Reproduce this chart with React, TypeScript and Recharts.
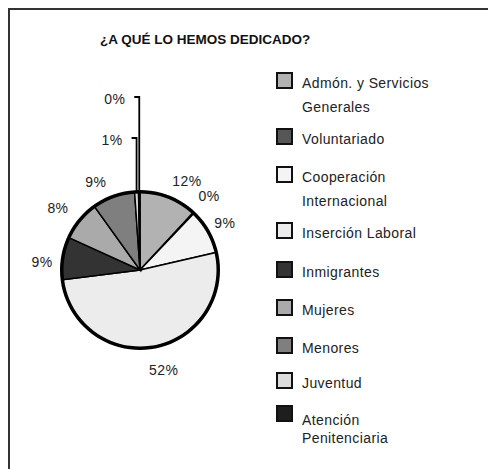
import React from "react";
import { PieChart, Pie, Cell, Legend } from "recharts";

// categories, clockwise from 12 o'clock (legend text keeps its line breaks)
const categories = [
  "Admón. y Servicios\nGenerales",
  "Voluntariado",
  "Cooperación\nInternacional",
  "Inserción Laboral",
  "Inmigrantes",
  "Mujeres",
  "Menores",
  "Juventud",
  "Atención\nPenitenciaria",
];

// share of each area, in %
const shares = [11.9, 0.2, 9.3, 51.6, 8.8, 8.3, 8.8, 0.8, 0.3];

const colors = [
  "#b2b2b2",
  "#565656",
  "#f4f4f4",
  "#ececec",
  "#333333",
  "#aaaaaa",
  "#7f7f7f",
  "#dcdcdc",
  "#1e1e1e",
];

const pieData = categories.map((name, i) => ({
  name: name.replace("\n", " "),
  value: shares[i],
}));

// thick outline of the pie
const outline = [{ name: "borde", value: 1 }];

const RADIAN = Math.PI / 180;
const FONT = "Arial, 'Liberation Sans', sans-serif";

// leader line length for the tiny slices at the top
const leaderLength: Record<number, number> = { 7: 54, 8: 95 };

// small label nudges (px) to mimic the original placement
const labelNudge: Record<number, [number, number]> = {
  0: [10, 5],
  2: [-3, 3],
  3: [6, 1],
  4: [2, 7],
  5: [-4, 2],
  6: [-10, 7],
};

// legend row heights
const legendRowH = [56, 38, 56, 39, 38, 38, 35, 33, 40];

const renderLabel = (props: any) => {
  const { cx, cy, midAngle, outerRadius, percent, index } = props;
  const text = `${Math.round(percent * 100)}%`;
  const style = { fontSize: 14, fill: "#222", fontFamily: FONT, letterSpacing: 0.4 };

  if (leaderLength[index] !== undefined) {
    const x0 = cx + outerRadius * Math.cos(-midAngle * RADIAN);
    const y0 = cy + outerRadius * Math.sin(-midAngle * RADIAN);
    const top = cy - outerRadius - leaderLength[index];
    return (
      <g key={`lbl-${index}`}>
        <polyline
          points={`${x0},${y0} ${x0},${top} ${x0 - 5},${top}`}
          fill="none"
          stroke="#000"
          strokeWidth={1.8}
        />
        <text x={x0 - 14} y={top + 2} textAnchor="end" dominantBaseline="central" style={style}>
          {text}
        </text>
      </g>
    );
  }

  const r = outerRadius + 23;
  const [dx, dy] = labelNudge[index] ?? [0, 0];
  const x = cx + r * Math.cos(-midAngle * RADIAN) + dx;
  const y = cy + r * Math.sin(-midAngle * RADIAN) + dy;
  return (
    <text key={`lbl-${index}`} x={x} y={y} textAnchor="middle" dominantBaseline="central" style={style}>
      {text}
    </text>
  );
};

const renderLegend = () => (
  <div style={{ fontFamily: FONT, fontSize: 14, color: "#222", letterSpacing: 0.4 }}>
    {categories.map((name, i) => {
      const last = i === categories.length - 1;
      return (
        <div key={name} style={{ display: "flex", height: legendRowH[i] }}>
          <div
            style={{
              width: 17,
              height: 17,
              boxSizing: "border-box",
              border: "2px solid #111",
              background: colors[i],
              flexShrink: 0,
            }}
          />
          <div
            style={{
              marginLeft: 9,
              whiteSpace: "pre-line",
              lineHeight: last ? "18px" : "24px",
              marginTop: last ? 6 : -1,
            }}
          >
            {name}
          </div>
        </div>
      );
    })}
  </div>
);

export default function App() {
  return (
    <div
      style={{
        position: "relative",
        width: 486,
        height: 459,
        borderTop: "2px solid #333",
        borderLeft: "2px solid #333",
        background: "#fff",
      }}
    >
      <div
        style={{
          position: "absolute",
          left: 90,
          top: 22,
          fontFamily: FONT,
          fontWeight: "bold",
          fontSize: 13.5,
          color: "#111",
        }}
      >
        ¿A QUÉ LO HEMOS DEDICADO?
      </div>
      <PieChart
        width={486}
        height={459}
        margin={{ top: 0, right: 0, bottom: 0, left: 0 }}
        style={{ position: "absolute", left: 0, top: 0 }}
      >
        <Pie
          data={pieData}
          dataKey="value"
          nameKey="name"
          cx={130}
          cy={260}
          outerRadius={78}
          startAngle={90}
          endAngle={-270}
          stroke="#000"
          strokeWidth={1.5}
          label={renderLabel}
          labelLine={false}
          isAnimationActive={false}
        >
          {pieData.map((d, i) => (
            <Cell key={d.name} fill={colors[i]} />
          ))}
        </Pie>
        <Pie
          data={outline}
          dataKey="value"
          nameKey="name"
          cx={130}
          cy={260}
          innerRadius={76.5}
          outerRadius={80}
          startAngle={90}
          endAngle={-270}
          fill="#000"
          stroke="none"
          legendType="none"
          isAnimationActive={false}
        >
          <Cell fill="#000" stroke="none" />
        </Pie>
        <Legend
          layout="vertical"
          verticalAlign="top"
          align="right"
          content={renderLegend}
          wrapperStyle={{ position: "absolute", left: 266, top: 62, right: "auto", width: 200 }}
        />
      </PieChart>
    </div>
  );
}
